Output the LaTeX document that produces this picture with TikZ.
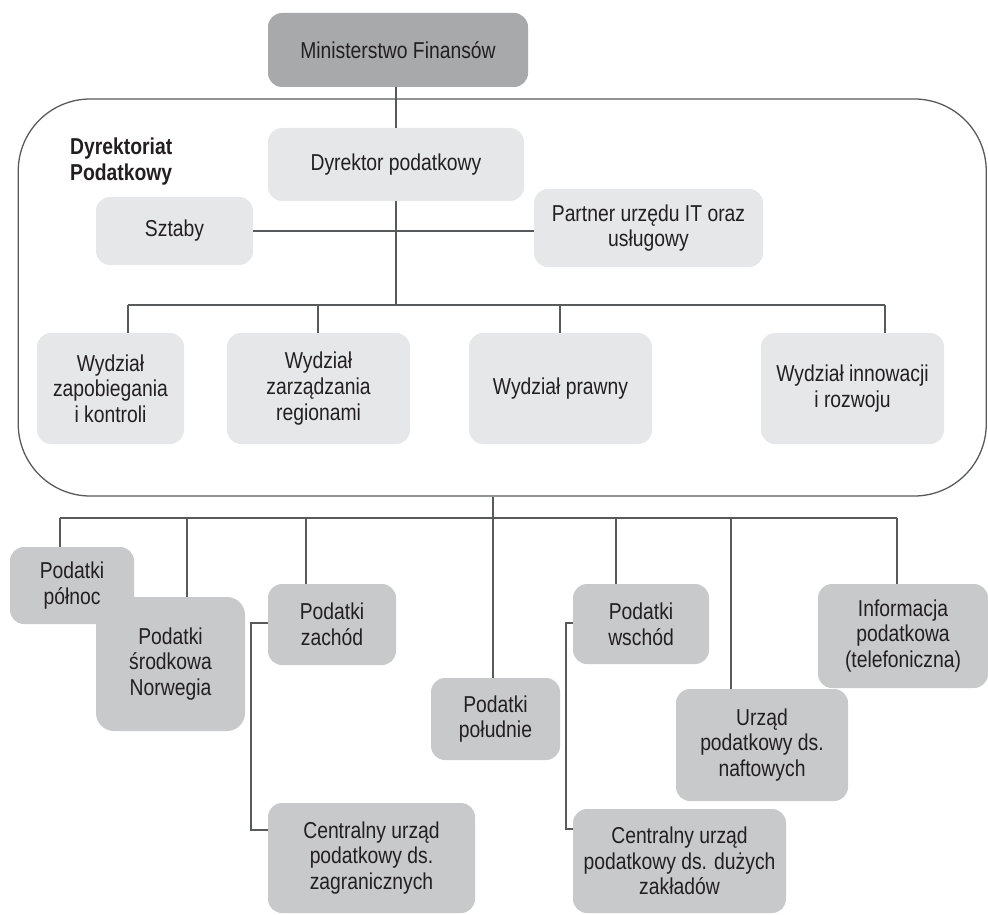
\documentclass[tikz,border=0pt]{standalone}
\usepackage{fontspec}
\setmainfont[FakeStretch=0.84]{Liberation Sans}
\definecolor{darkbox}{HTML}{A8A9AB}
\definecolor{lightbox}{HTML}{E6E7E8}
\definecolor{midbox}{HTML}{C8C9CB}
\definecolor{linec}{HTML}{58595B}
\definecolor{txt}{HTML}{231F20}
\tikzset{
  box/.style={rounded corners=14pt, inner sep=0pt, align=center, text=txt,
    font=\fontsize{23}{25.6}\selectfont},
  topbox/.style={box, fill=darkbox},
  lbox/.style={box, fill=lightbox},
  mbox/.style={box, fill=midbox},
  conn/.style={draw=linec, line width=1.3pt},
}
\begin{document}
\begin{tikzpicture}[x=1pt,y=-1pt]
\useasboundingbox (0,0) rectangle (988,915);
% container
\node[draw=linec, line width=1.3pt, rounded corners=72pt, minimum width=968pt, minimum height=397pt, inner sep=0pt] (dp) at (502.25,297.5) {};
\node[anchor=north west, inner sep=0pt, align=left, text=txt, font=\fontsize{23}{25.6}\selectfont\bfseries] (dplabel) at (70,138) {Dyrektoriat\\Podatkowy};
% top
\node[topbox, minimum width=260pt, minimum height=74pt] (min) at (398,50) {Ministerstwo Finansów};
\node[lbox, minimum width=256pt, minimum height=73pt] (dyr) at (396,164.5) {Dyrektor podatkowy};
\node[lbox, minimum width=157pt, minimum height=68pt] (szt) at (174.5,231) {Sztaby};
\node[lbox, minimum width=229pt, minimum height=78pt] (part) at (648.5,228) {Partner urzędu IT oraz\\usługowy};
% departments
\node[lbox, minimum width=147pt, minimum height=111pt] (w1) at (110.5,388.5) {Wydział\\zapobiegania\\i kontroli};
\node[lbox, minimum width=183pt, minimum height=111pt] (w2) at (318.5,388.5) {Wydział\\zarządzania\\regionami};
\node[lbox, minimum width=183pt, minimum height=111pt] (w3) at (560.5,388.5) {Wydział prawny};
\node[lbox, minimum width=183pt, minimum height=111pt] (w4) at (852.5,388.5) {Wydział innowacji\\i rozwoju};
% lower boxes
\node[mbox, minimum width=124pt, minimum height=77pt] (pn) at (72,585.5) {Podatki\\północ};
\node[mbox, rounded corners=18pt, minimum width=149pt, minimum height=134pt] (ps) at (170.5,664) {Podatki\\środkowa\\Norwegia};
\node[mbox, minimum width=128pt, minimum height=81pt] (pz) at (332,624.5) {Podatki\\zachód};
\node[mbox, minimum width=207pt, minimum height=110pt] (cz) at (371.5,858) {Centralny urząd\\podatkowy ds.\\zagranicznych};
\node[mbox, minimum width=129pt, minimum height=82pt] (pp) at (495.5,719) {Podatki\\południe};
\node[mbox, minimum width=136pt, minimum height=80pt] (pw) at (641,624) {Podatki\\wschód};
\node[mbox, minimum width=213pt, minimum height=104pt] (cd) at (679.5,861) {Centralny urząd\\podatkowy ds. dużych\\zakładów};
\node[mbox, minimum width=172pt, minimum height=112pt] (un) at (762,745) {Urząd\\podatkowy ds.\\naftowych};
\node[mbox, minimum width=170pt, minimum height=104pt] (inf) at (903,636) {Informacja\\podatkowa\\(telefoniczna)};
% upper connectors
\draw[conn] (dyr.north) -- (dyr.north |- min.south);
\coordinate (b1) at (396,305);
\draw[conn] (dyr.south) -- (b1);
\draw[conn] (szt.east) -- (szt.east -| part.west);
\coordinate (d1) at (128,305);
\coordinate (d2) at (318,305);
\coordinate (d3) at (560,305);
\coordinate (d4) at (885,305);
\draw[conn] (d1) -- (d4);
\draw[conn] (d1) -- (d1 |- w1.north);
\draw[conn] (d2) -- (d2 |- w2.north);
\draw[conn] (d3) -- (d3 |- w3.north);
\draw[conn] (d4) -- (d4 |- w4.north);
% lower connectors
\coordinate (b2) at (493,518);
\draw[conn] (dp.south -| b2) -- (pp.north -| b2);
\coordinate (e1) at (60,518);
\coordinate (e2) at (187,518);
\coordinate (e3) at (306,518);
\coordinate (e5) at (616,518);
\coordinate (e6) at (731,518);
\coordinate (e7) at (897,518);
\draw[conn] (e1) -- (e7);
\draw[conn] (e1) -- (e1 |- pn.north);
\draw[conn] (e2) -- (e2 |- ps.north);
\draw[conn] (e3) -- (e3 |- pz.north);
\draw[conn] (e5) -- (e5 |- pw.north);
\draw[conn] (e6) -- (e6 |- un.north);
\draw[conn] (e7) -- (e7 |- inf.north);
% brackets
\coordinate (k1) at (251,623);
\coordinate (k2) at (251,830);
\draw[conn] (k1 -| pz.west) -- (k1) -- (k2) -- (k2 -| cz.west);
\coordinate (m1) at (566,623);
\coordinate (m2) at (566,829);
\draw[conn] (m1 -| pw.west) -- (m1) -- (m2) -- (m2 -| cd.west);
\end{tikzpicture}
\end{document}
